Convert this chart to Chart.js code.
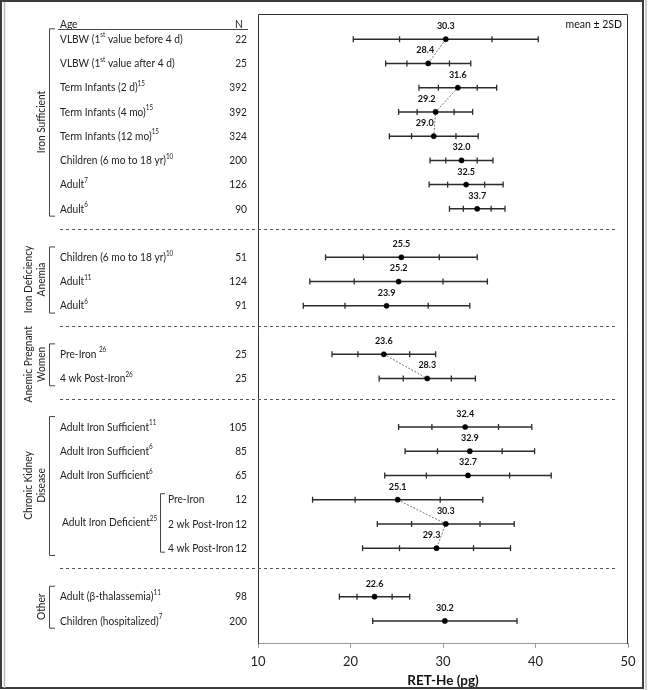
<!DOCTYPE html>
<html lang="en">
<head>
<meta charset="UTF-8" />
<title>RET-He by group</title>
<script src="https://cdn.jsdelivr.net/npm/chart.js"></script>
<style>
  body { margin: 0; background: #fff; }
  canvas { display: block; }
</style>
</head>
<body>
<canvas id="retChart" width="648" height="690"></canvas>

<script>
// rows, top to bottom (^{..} marks a superscript)
const rowLabels = [
  'VLBW (1^{st} value before 4 d)', 'VLBW (1^{st} value after 4 d)', 'Term Infants (2 d)^{15}',
  'Term Infants (4 mo)^{15}', 'Term Infants (12 mo)^{15}', 'Children (6 mo to 18 yr)^{10}',
  'Adult^{7}', 'Adult^{6}',
  'Children (6 mo to 18 yr)^{10}', 'Adult^{11}', 'Adult^{6}',
  'Pre-Iron ^{26}', '4 wk Post-Iron^{26}',
  'Adult Iron Sufficient^{11}', 'Adult Iron Sufficient^{6}', 'Adult Iron Sufficient^{6}',
  'Pre-Iron', '2 wk Post-Iron', '4 wk Post-Iron',
  'Adult (β-thalassemia)^{11}', 'Children (hospitalized)^{7}'
];
const rowN = [22, 25, 392, 392, 324, 200, 126, 90, 51, 124, 91, 25, 25, 105, 85, 65, 12, 12, 12, 98, 200];
const rowSlot = [0, 1, 2, 3, 4, 5, 6, 7, 9, 10, 11, 13, 14, 16, 17, 18, 19, 20, 21, 23, 24];
const means = [30.3, 28.4, 31.6, 29.2, 29.0, 32.0, 32.5, 33.7, 25.5, 25.2, 23.9, 23.6, 28.3,
  32.4, 32.9, 32.7, 25.1, 30.3, 29.3, 22.6, 30.2];
const sds = [5.0, 2.3, 2.1, 2.0, 2.4, 1.7, 2.0, 1.5, 4.1, 4.8, 4.5, 2.8, 2.6,
  3.6, 3.5, 4.5, 4.6, 3.7, 4.0, 1.9, 3.9];
const hasSdTicks = rowN.map((n, i) => i !== 20);

const groupNames = [['Iron Sufficient'], ['Iron Deficiency', 'Anemia'], ['Anemic Pregnant', 'Women'],
  ['Chronic Kidney', 'Disease'], ['Other']];
const groupRows = [[0, 7], [8, 10], [11, 12], [13, 18], [19, 20]];
const subGroupName = 'Adult Iron Deficient';
const subGroupRef = '25';
const subGroupRows = [16, 18];
const linkedRows = [[0, 1], [2, 3, 4], [11, 12], [16, 17, 18]];
const xTicks = [10, 20, 30, 40, 50];

const FONT = 'Lato';
const TXT = 11.3;
const SQUEEZE = 0.9; // Lato is wider than the original Calibri-like face
const ctx = document.getElementById('retChart').getContext('2d');

const whiskers = means.map((m, i) => ({
  data: [{ x: m - 2 * sds[i], y: rowSlot[i] }, { x: m + 2 * sds[i], y: rowSlot[i] }],
  showLine: true, borderColor: '#2b2b2b', borderWidth: 1.5, pointRadius: 0, order: 3
}));

const capPoints = [];
means.forEach((m, i) => {
  capPoints.push({ x: m - 2 * sds[i], y: rowSlot[i] }, { x: m + 2 * sds[i], y: rowSlot[i] });
  if (hasSdTicks[i]) capPoints.push({ x: m - sds[i], y: rowSlot[i] }, { x: m + sds[i], y: rowSlot[i] });
});

const links = linkedRows.map(chain => ({
  data: chain.map(i => ({ x: means[i], y: rowSlot[i] })),
  showLine: true, borderColor: '#777', borderWidth: 1, borderDash: [2, 1.5], pointRadius: 0, order: 2
}));

// text labels around the plot
const labelShift = { 1: -3, 3: -9, 4: -9, 18: -5 };

function richText(c, str, x, y, size) {
  const parts = str.split(/\^\{([^}]*)\}/);
  c.save();
  c.translate(x, y);
  c.scale(SQUEEZE, 1);
  c.textAlign = 'left';
  let cx = 0;
  parts.forEach((p, k) => {
    const sup = k % 2 === 1;
    c.font = (sup ? size * 0.62 : size) + 'px ' + FONT;
    c.fillText(p, cx, sup ? -size * 0.36 : 0);
    cx += c.measureText(p).width;
  });
  c.restore();
}

function plainText(c, str, x, y, size, align) {
  c.save();
  c.translate(x, y);
  c.scale(SQUEEZE, 1);
  c.font = size + 'px ' + FONT; c.textAlign = align;
  c.fillText(str, 0, 0);
  c.restore();
}

const textPlugin = {
  id: 'textPlugin',
  afterDraw(chart) {
    const c = chart.ctx, a = chart.chartArea;
    const xs = chart.scales.x, ys = chart.scales.y;
    const yOf = s => ys.getPixelForValue(s);
    c.save();

    // plot frame (bottom is the x axis)
    c.strokeStyle = '#333'; c.lineWidth = 1;
    c.beginPath();
    c.moveTo(a.left + 0.5, a.bottom); c.lineTo(a.left + 0.5, a.top + 0.5);
    c.lineTo(a.right - 0.5, a.top + 0.5); c.lineTo(a.right - 0.5, a.bottom);
    c.stroke();

    // mean values
    c.fillStyle = '#111'; c.textAlign = 'center'; c.textBaseline = 'middle';
    c.font = 'bold 9px ' + FONT;
    means.forEach((m, i) => {
      c.fillText(m.toFixed(1), xs.getPixelForValue(m) + (labelShift[i] || 0), yOf(rowSlot[i]) - 13);
    });
    c.font = '10.5px ' + FONT; c.textAlign = 'right';
    c.fillText('mean \u00b1 2SD', a.right - 6, a.top + 11);

    // table header
    c.fillStyle = '#222';
    plainText(c, 'Age', 60, 24, TXT, 'left');
    plainText(c, 'N', 239, 24, TXT, 'center');
    c.strokeStyle = '#444'; c.beginPath(); c.moveTo(58, 29.5); c.lineTo(248, 29.5); c.stroke();

    // row labels and N
    rowLabels.forEach((lab, i) => {
      const y = yOf(rowSlot[i]);
      const inSub = i >= subGroupRows[0] && i <= subGroupRows[1];
      richText(c, lab, inSub ? 168 : 60, y, TXT);
      plainText(c, String(rowN[i]), 247, y, TXT, 'right');
    });

    // group brackets and rotated names
    c.strokeStyle = '#444'; c.lineWidth = 1;
    groupRows.forEach((g, k) => {
      const top = yOf(rowSlot[g[0]] - 0.45), bot = yOf(rowSlot[g[1]] + 0.28);
      c.beginPath();
      c.moveTo(55, top + 0.5); c.lineTo(49.5, top + 0.5); c.lineTo(49.5, bot + 0.5); c.lineTo(55, bot + 0.5);
      c.stroke();
      const lines = groupNames[k];
      const cy = (top + bot) / 2;
      c.save();
      c.translate(lines.length === 1 ? 41 : 34.5, cy);
      c.rotate(-Math.PI / 2);
      lines.forEach((t, j) => plainText(c, t, 0, (j - (lines.length - 1) / 2) * 13, TXT, 'center'));
      c.restore();
    });

    // sub group bracket
    const sTop = yOf(rowSlot[subGroupRows[0]]) - 6.5, sBot = yOf(rowSlot[subGroupRows[1]]) + 3.5;
    c.beginPath();
    c.moveTo(165, sTop + 0.5); c.lineTo(160.5, sTop + 0.5); c.lineTo(160.5, sBot + 0.5); c.lineTo(165, sBot + 0.5);
    c.stroke();
    richText(c, subGroupName + '^{' + subGroupRef + '}', 62, yOf(rowSlot[subGroupRows[0] + 1]) - 1.5, TXT);

    // dashed separators between groups
    c.strokeStyle = '#555'; c.setLineDash([3, 3]);
    for (let k = 0; k < groupRows.length - 1; k++) {
      const s = (rowSlot[groupRows[k][1]] + rowSlot[groupRows[k + 1][0]]) / 2 - 0.17;
      const y = Math.round(yOf(s)) + 0.5;
      c.beginPath(); c.moveTo(60, y); c.lineTo(616, y); c.stroke();
    }
    c.setLineDash([]);

    // figure border
    c.strokeStyle = '#3c3c3c'; c.lineWidth = 2;
    c.strokeRect(1, 1, 642, 687);
    c.strokeStyle = '#bbb'; c.lineWidth = 1.5;
    c.beginPath(); c.moveTo(4.5, 2); c.lineTo(4.5, 688); c.stroke();
    c.beginPath(); c.moveTo(646, 0); c.lineTo(646, 690); c.stroke();
    c.restore();
  }
};

new Chart(ctx, {
  type: 'scatter',
  data: {
    datasets: [
      { data: means.map((m, i) => ({ x: m, y: rowSlot[i] })), pointRadius: 2.6, pointBackgroundColor: '#000',
        pointBorderColor: '#000', pointBorderWidth: 0.5, order: 0 },
      { data: capPoints, pointStyle: 'line', rotation: 90, pointRadius: 3, pointBorderColor: '#2b2b2b',
        pointBorderWidth: 1.3, order: 1 },
      ...links,
      ...whiskers
    ]
  },
  options: {
    responsive: false,
    animation: false,
    events: [],
    layout: { padding: { left: 258, right: 20, top: 14, bottom: 0 } },
    plugins: { legend: { display: false }, tooltip: { enabled: false } },
    scales: {
      x: {
        type: 'linear', min: 10, max: 50,
        afterBuildTicks: s => { s.ticks = xTicks.map(v => ({ value: v })); },
        grid: { drawOnChartArea: false, drawTicks: true, tickLength: 4, color: '#999' },
        border: { display: true, color: '#999' },
        ticks: { font: { family: FONT, size: 13 }, color: '#222', padding: 6 },
        title: { display: true, text: 'RET-He (pg)', color: '#111',
          font: { family: FONT, size: 13.5, weight: 'bold', lineHeight: 1 }, padding: { top: -2, bottom: 3 } }
      },
      y: { type: 'linear', reverse: true, min: -1.04, max: 24.95, display: false }
    }
  },
  plugins: [textPlugin]
});
</script>
</body>
</html>
